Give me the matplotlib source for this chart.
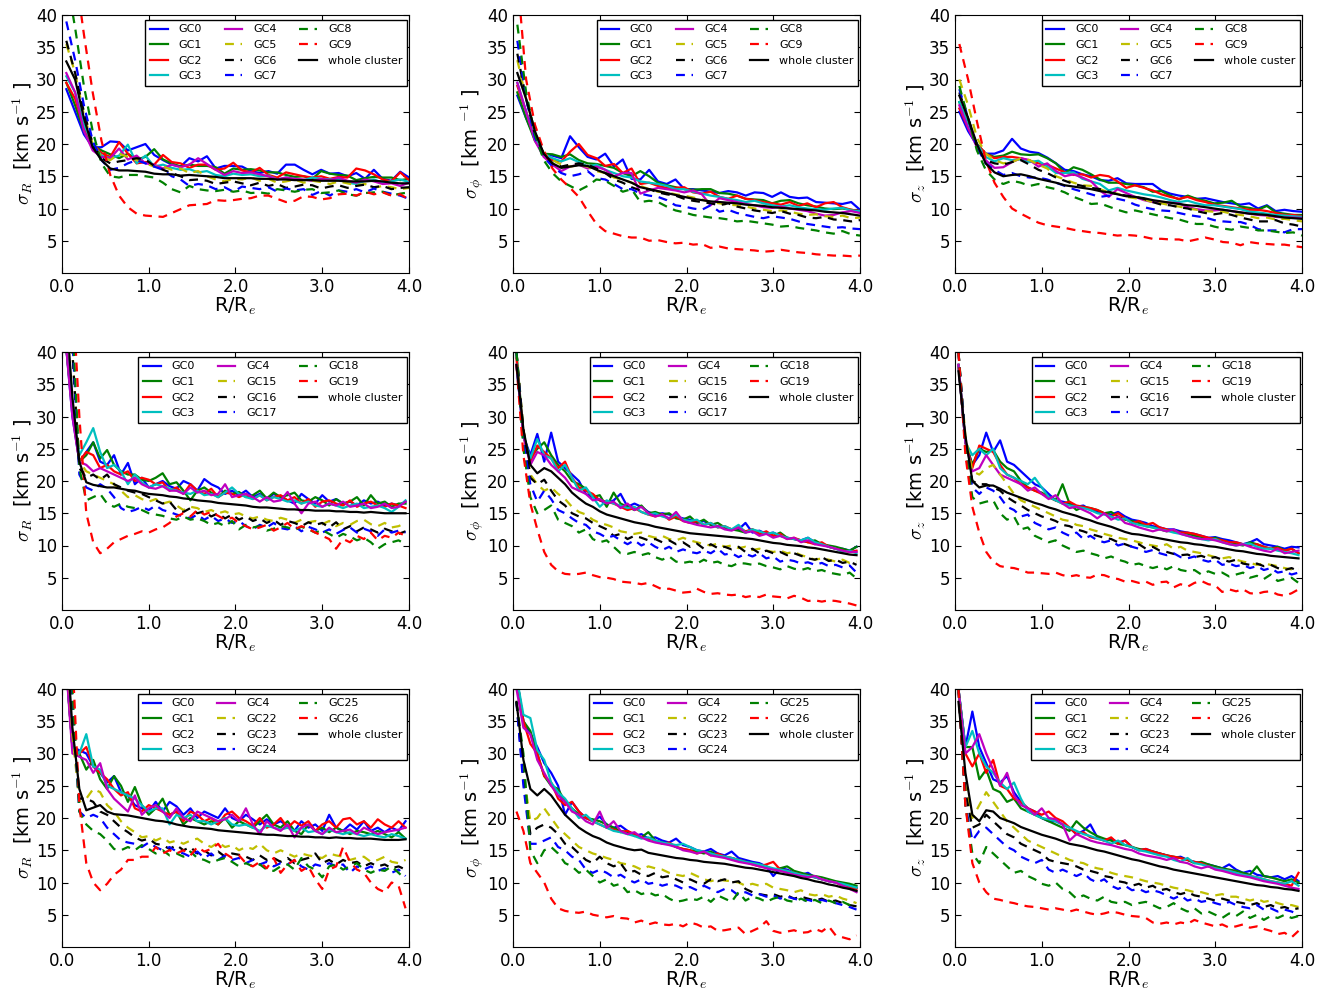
import numpy as np
import matplotlib
matplotlib.use('Agg')
import matplotlib.pyplot as plt
from matplotlib.ticker import FormatStrFormatter

# radial bins (R/Re)
x_top = np.linspace(0.05, 4.0, 40)
x_low = np.linspace(0.04, 3.96, 50)

# ---------------- top row: GC0-GC9 ----------------
sigR_top_gc0 = [28.5, 25, 21.5, 19.5, 19.5, 20.4, 20.3, 19.0, 19.5, 20.0, 18.3, 17.5, 16.8, 16.5, 17.8, 17.3, 18.1, 16.2, 16.6, 16.6,
                16.5, 15.8, 15.5, 15.8, 15.4, 16.8, 16.8, 16.0, 15.3, 16.0, 15.4, 15.5, 15.0, 15.5, 14.6, 16.0, 14.6, 14.3, 15.7, 14.8]
sigR_top_gc1 = [29.5, 26, 22, 19.8, 19.0, 18.4, 17.8, 18.5, 17.6, 18.0, 19.2, 17.6, 17.0, 16.5, 16.8, 16.6, 16.6, 16.4, 15.4, 16.2,
                16.0, 16.1, 15.9, 15.6, 15.6, 15.2, 14.9, 15.0, 14.6, 15.8, 15.4, 15.2, 15.1, 14.4, 14.7, 14.9, 14.8, 14.8, 14.4, 14.6]
sigR_top_gc2 = [29.5, 27, 22.5, 20, 18.6, 18.0, 20.3, 18.5, 17.0, 17.2, 16.8, 18.3, 17.2, 17.0, 16.3, 16.8, 16.8, 16.0, 16.2, 17.1,
                15.9, 15.6, 16.3, 15.2, 14.8, 15.6, 15.3, 15.0, 14.8, 15.0, 14.6, 14.9, 14.8, 16.2, 15.9, 15.3, 14.5, 14.2, 15.6, 14.4]
sigR_top_gc3 = [30.5, 28, 23, 20, 18.2, 17.8, 18.2, 19.9, 17.0, 18.2, 16.5, 16.8, 16.3, 16.0, 16.1, 15.6, 15.8, 15.2, 15.0, 15.4,
                15.2, 15.3, 15.0, 15.1, 14.5, 14.8, 14.6, 14.4, 14.8, 14.6, 14.5, 14.6, 14.0, 13.8, 14.3, 14.5, 14.0, 14.2, 14.5, 14.1]
sigR_top_gc4 = [31, 28, 22, 19, 18.0, 17.8, 19.3, 17.6, 18.2, 17.0, 16.8, 16.2, 16.8, 16.4, 16.8, 17.8, 16.9, 16.0, 15.2, 15.8,
                15.5, 15.6, 15.3, 15.0, 14.5, 14.8, 14.6, 14.5, 14.3, 14.6, 14.4, 14.8, 14.3, 14.0, 14.5, 14.2, 13.8, 13.9, 13.5, 14.0]
sigR_top_gc5 = [35.5, 31, 24.5, 20, 18, 17.5, 18.5, 18.0, 17.5, 17.0, 16.5, 16.5, 16.0, 16.2, 15.5, 15.8, 15.0, 14.5, 14.2, 14.6,
                14.5, 14.8, 14.3, 14.6, 14.0, 14.2, 14.5, 14.0, 14.3, 14.1, 13.8, 14.2, 13.9, 13.6, 13.8, 13.2, 13.5, 13.3, 13.0, 13.2]
sigR_top_gc6 = [36, 31, 25, 20, 17.8, 17.0, 17.3, 17.5, 17.8, 17.6, 16.6, 16.0, 15.5, 15.0, 14.4, 14.5, 14.3, 13.8, 14.0, 14.2,
                13.9, 13.6, 14.0, 13.5, 13.8, 13.2, 13.4, 13.7, 13.6, 13.1, 13.4, 13.6, 13.2, 13.5, 13.7, 13.3, 13.5, 13.0, 13.2, 13.3]
sigR_top_gc7 = [39, 33, 26, 20.5, 17.5, 16.0, 16.3, 17.0, 17.5, 17.0, 16.5, 16.0, 15.0, 14.5, 13.5, 13.8, 13.6, 13.0, 13.3, 12.6,
                13.4, 13.2, 13.0, 13.3, 12.6, 13.1, 12.8, 13.0, 12.1, 12.7, 12.0, 12.8, 12.6, 13.0, 12.5, 13.1, 12.6, 12.3, 12.0, 11.5]
sigR_top_gc8 = [46, 38, 29, 22, 17, 15, 14.8, 15.2, 15.2, 15.0, 14.8, 14.0, 13.0, 12.5, 13.5, 13.0, 12.8, 12.7, 12.9, 12.6,
                12.8, 12.4, 12.5, 12.3, 13.0, 12.8, 12.6, 12.9, 13.0, 12.4, 12.5, 12.8, 12.2, 12.0, 12.4, 12.5, 12.6, 12.0, 12.3, 12.5]
sigR_top_gc9 = [55, 47, 37, 28, 20.5, 15.2, 12.0, 10.2, 9.2, 8.9, 8.8, 8.7, 9.3, 9.9, 10.5, 10.6, 10.7, 11.3, 11.2, 11.3,
                11.5, 11.6, 12.0, 12.0, 11.5, 11.0, 11.2, 11.9, 11.8, 11.4, 11.6, 12.2, 12.3, 12.0, 12.6, 12.2, 12.5, 12.0, 12.2, 11.4]
sigR_top_all = [32.8, 30, 24, 19.5, 17.5, 16.2, 15.9, 15.9, 15.8, 15.7, 15.4, 15.3, 15.3, 15.1, 15.2, 15.1, 15.0, 14.9, 14.7, 14.7,
                14.7, 14.7, 14.6, 14.6, 14.5, 14.5, 14.4, 14.4, 14.4, 14.3, 14.3, 14.3, 14.2, 14.2, 14.2, 14.3, 14.2, 14.0, 13.9, 13.9]

sigP_top_gc0 = [27.5, 24, 21, 18.5, 18.2, 17.8, 21.2, 19.5, 18.0, 17.6, 18.5, 16.5, 17.6, 14.6, 14.5, 16.0, 14.2, 13.8, 14.5, 13.0,
                13.0, 12.8, 12.6, 12.4, 12.7, 12.5, 12.0, 12.5, 12.4, 11.8, 12.5, 11.8, 11.6, 11.7, 11.0, 10.9, 10.8, 10.7, 11.0, 9.8]
sigP_top_gc1 = [28, 24, 20.5, 18.5, 18.4, 18.0, 18.4, 17.5, 17.0, 16.9, 16.6, 16.3, 15.5, 15.0, 15.8, 15.0, 14.0, 13.6, 13.3, 13.0,
                12.9, 13.0, 13.0, 12.4, 12.3, 12.0, 11.5, 11.4, 11.3, 10.8, 11.2, 11.3, 10.8, 10.5, 10.3, 10.0, 9.9, 10.0, 9.8, 9.6]
sigP_top_gc2 = [29, 25, 21, 18.5, 17.5, 17.3, 18.8, 20.0, 18.3, 17.8, 16.6, 16.9, 15.5, 16.2, 13.8, 14.0, 13.5, 13.2, 13.2, 13.3,
                12.5, 12.3, 12.6, 11.8, 11.5, 12.0, 11.5, 11.3, 11.0, 10.8, 10.6, 11.0, 10.4, 10.8, 10.2, 10.8, 11.0, 10.2, 9.8, 9.6]
sigP_top_gc3 = [29.5, 25, 21, 18.5, 17.8, 17.3, 17.8, 17.2, 16.5, 16.8, 16.0, 15.5, 15.0, 14.8, 14.2, 14.0, 13.8, 13.5, 13.0, 13.0,
                12.6, 12.3, 12.0, 11.8, 11.5, 11.3, 11.0, 11.2, 10.8, 10.5, 10.3, 10.5, 10.2, 10.0, 9.9, 9.8, 10.0, 10.1, 9.7, 9.6]
sigP_top_gc4 = [29.5, 25, 20.5, 18, 16.8, 15.8, 16.5, 16.8, 16.2, 16.5, 16.0, 15.0, 15.5, 15.5, 12.3, 12.8, 13.2, 13.0, 12.8, 12.5,
                12.8, 12.2, 10.5, 11.6, 11.3, 11.0, 10.7, 10.5, 10.2, 10.1, 10.3, 10.0, 9.8, 9.6, 9.2, 8.9, 9.0, 9.4, 9.6, 9.3]
sigP_top_gc5 = [33, 27, 22, 18.5, 17.5, 16.8, 16.5, 16.7, 16.5, 15.8, 15.5, 14.8, 14.5, 14.0, 13.5, 13.0, 12.6, 12.5, 12.2, 12.0,
                11.7, 11.4, 11.0, 10.8, 10.6, 10.5, 10.3, 10.0, 9.8, 9.6, 9.7, 9.5, 9.2, 9.0, 9.1, 8.8, 8.7, 8.9, 8.5, 8.6]
sigP_top_gc6 = [34, 27, 21.5, 18.5, 17, 16.5, 16.8, 17.0, 16.8, 16.2, 15.5, 14.5, 14.0, 13.3, 12.8, 13.0, 12.5, 12.2, 12.0, 11.5,
                11.2, 11.0, 10.8, 10.5, 10.8, 10.3, 10.0, 9.7, 9.5, 9.3, 9.6, 9.2, 9.0, 8.6, 8.5, 8.7, 8.3, 8.2, 8.0, 8.2]
sigP_top_gc7 = [36, 27, 21, 18, 16.5, 15.5, 15.0, 15.3, 15.8, 14.7, 14.5, 13.8, 13.0, 13.0, 12.3, 12.0, 11.8, 11.3, 10.5, 10.3,
                10.0, 9.8, 10.5, 9.5, 9.8, 9.3, 9.0, 8.7, 8.5, 8.8, 8.6, 8.4, 8.0, 7.6, 7.4, 7.2, 7.0, 7.1, 6.9, 6.8]
sigP_top_gc8 = [38.5, 28, 21.5, 17.5, 15.5, 14.2, 13.5, 12.8, 13.5, 14.5, 14.3, 13.5, 12.6, 13.0, 11.0, 11.2, 11.0, 10.3, 9.7, 9.4,
                9.0, 8.8, 8.6, 8.5, 8.3, 8.0, 8.1, 7.9, 7.7, 7.5, 7.2, 7.3, 7.0, 6.8, 6.6, 6.3, 6.1, 6.5, 6.0, 5.8]
sigP_top_gc9 = [46, 30, 23, 19, 16.2, 14.5, 13.2, 11.8, 9.6, 7.6, 6.5, 6.1, 5.7, 5.5, 5.5, 5.0, 5.1, 4.8, 4.6, 4.7,
                4.4, 4.5, 3.9, 4.1, 3.8, 3.7, 3.6, 3.5, 3.3, 3.4, 3.6, 3.4, 3.2, 3.1, 2.9, 2.8, 2.7, 2.7, 2.6, 2.7]
sigP_top_all = [31, 27, 22, 18.5, 17, 16.3, 16.5, 16.7, 16.6, 16.0, 15.5, 15.0, 14.5, 14.0, 13.3, 13.0, 12.7, 12.4, 12.1, 11.8,
                11.5, 11.3, 11.1, 11.0, 10.9, 10.8, 10.6, 10.5, 10.4, 10.2, 10.1, 10.0, 9.9, 9.8, 9.7, 9.5, 9.4, 9.3, 9.1, 8.9]

sigZ_top_gc0 = [25, 22, 19.8, 18.5, 18.5, 19.0, 20.8, 19.3, 18.8, 18.6, 17.9, 17.0, 16.0, 15.8, 15.3, 15.0, 14.4, 14.3, 14.7, 13.9,
                13.8, 13.8, 13.8, 12.8, 12.3, 12.0, 11.8, 11.5, 11.6, 11.3, 11.0, 10.8, 10.6, 10.8, 10.0, 10.5, 9.6, 9.8, 9.6, 9.5]
sigZ_top_gc1 = [26.5, 23, 20, 18.5, 18.0, 18.2, 18.8, 18.4, 18.3, 18.4, 17.8, 17.0, 15.5, 16.4, 16.0, 15.3, 14.5, 14.0, 14.0, 13.8,
                13.6, 13.3, 12.6, 12.7, 12.0, 11.4, 12.0, 11.5, 11.2, 10.8, 10.9, 11.2, 10.3, 10.1, 9.8, 10.4, 9.4, 9.2, 9.0, 9.0]
sigZ_top_gc2 = [25.5, 22.5, 20, 18.5, 17.8, 18.0, 18.0, 17.8, 17.4, 17.0, 16.8, 16.2, 15.6, 15.2, 15.3, 14.8, 15.2, 15.0, 14.2, 13.2,
                13.6, 13.2, 12.8, 12.2, 11.8, 11.5, 11.8, 11.3, 11.0, 10.6, 10.4, 10.2, 10.0, 9.8, 9.8, 9.6, 9.3, 9.0, 9.0, 8.8]
sigZ_top_gc3 = [26.5, 23, 20, 18.0, 17.3, 17.8, 17.5, 17.6, 17.2, 17.4, 16.5, 15.5, 15.5, 15.6, 14.6, 14.2, 13.8, 12.8, 13.2, 12.8,
                12.5, 12.2, 12.0, 11.7, 11.3, 11.0, 11.2, 10.8, 10.5, 10.5, 10.3, 10.1, 9.9, 9.5, 9.4, 9.2, 9.0, 8.9, 8.8, 8.7]
sigZ_top_gc4 = [26, 22.5, 19.5, 17.5, 16.3, 16.4, 17.2, 17.8, 17.5, 16.5, 17.0, 15.8, 15.0, 15.3, 14.8, 14.2, 12.8, 11.8, 13.0, 12.4,
                11.8, 11.3, 11.0, 10.9, 10.9, 10.8, 10.2, 9.9, 9.7, 9.7, 9.8, 9.6, 9.4, 9.2, 9.0, 8.9, 8.7, 8.6, 8.6, 8.5]
sigZ_top_gc5 = [30, 26, 21, 18.5, 17.5, 17.0, 17.2, 17.8, 17.5, 16.8, 16.2, 15.0, 14.5, 14.0, 13.6, 13.5, 13.0, 12.5, 12.3, 11.8,
                11.6, 11.4, 11.0, 10.8, 10.5, 10.3, 10.0, 9.8, 9.6, 9.5, 9.5, 9.2, 9.0, 8.8, 8.5, 8.6, 8.3, 8.4, 8.2, 8.0]
sigZ_top_gc6 = [28, 24, 19.5, 17.5, 17.0, 16.8, 17.2, 17.5, 16.8, 16.0, 15.5, 14.8, 14.3, 13.8, 13.5, 13.2, 13.0, 12.6, 12.2, 12.0,
                11.8, 11.5, 11.0, 10.6, 10.5, 10.2, 10.0, 9.6, 9.3, 9.1, 9.3, 9.0, 8.6, 8.3, 8.0, 8.0, 8.2, 7.7, 7.5, 7.2]
sigZ_top_gc7 = [28.5, 24, 19.5, 17, 16.0, 15.2, 15.5, 15.0, 14.8, 14.8, 14.5, 14.0, 13.5, 13.0, 12.6, 12.2, 11.8, 12.0, 11.5, 11.2,
                10.6, 10.2, 9.9, 9.7, 9.6, 9.3, 9.0, 8.8, 8.6, 8.2, 8.0, 7.9, 7.9, 7.5, 6.8, 6.6, 6.6, 6.3, 6.8, 6.8]
sigZ_top_gc8 = [29, 24, 19, 16, 14.5, 13.8, 14.3, 14.0, 13.5, 13.8, 13.3, 13.0, 12.5, 11.8, 11.3, 10.7, 10.8, 10.3, 9.8, 9.4,
                9.7, 9.4, 9.1, 8.8, 8.5, 8.3, 7.9, 7.6, 7.6, 7.2, 6.9, 6.7, 7.2, 7.0, 6.6, 6.6, 6.4, 6.2, 6.3, 5.8]
sigZ_top_gc9 = [35.5, 30, 23.5, 17.5, 14.0, 11.8, 10.0, 9.2, 8.5, 7.8, 7.4, 7.2, 7.0, 6.7, 6.5, 6.3, 6.2, 6.0, 5.8, 5.9,
                5.8, 5.6, 5.3, 5.3, 5.2, 5.2, 4.9, 5.2, 5.5, 5.2, 4.8, 4.7, 4.3, 4.8, 4.6, 4.5, 4.4, 4.4, 4.2, 4.0]
sigZ_top_all = [27.5, 24, 20, 17, 15.6, 15.0, 15.2, 15.3, 15.0, 14.6, 14.3, 14.0, 13.6, 13.4, 13.2, 13.0, 12.7, 12.5, 12.2, 11.9,
                11.8, 11.6, 11.3, 11.1, 10.9, 10.7, 10.5, 10.4, 10.2, 10.0, 9.8, 9.6, 9.4, 9.2, 9.1, 9.0, 8.8, 8.6, 8.5, 8.4]

# ---------------- middle row: GC0-GC4, GC15-GC19 ----------------
sigR_mid_gc0 = [42, 30, 23, 24.5, 26.0, 23.0, 22.5, 24.0, 21.0, 22.8, 19.5, 20.5, 19.0, 19.5, 20.0, 19.2, 18.8, 20.0, 19.5, 18.5,
                20.3, 19.5, 19.0, 18.0, 18.5, 17.8, 18.5, 17.5, 18.0, 17.2, 18.0, 17.5, 17.0, 16.5, 18.0, 17.2, 16.5, 17.8, 16.8, 17.2,
                16.5, 16.8, 16.2, 17.0, 16.5, 16.8, 16.2, 16.5, 16.2, 16.8]
sigR_mid_gc1 = [42, 31, 23, 24.0, 26.0, 23.5, 24.8, 22.5, 21.5, 21.0, 21.0, 20.2, 20.0, 20.5, 21.2, 19.5, 19.8, 18.5, 17.0, 18.5,
                19.0, 18.2, 17.5, 18.5, 18.0, 18.3, 17.5, 17.8, 18.5, 17.3, 18.2, 17.5, 17.8, 18.2, 17.0, 16.8, 17.5, 17.0, 16.2, 17.2,
                16.5, 16.8, 17.5, 16.2, 17.8, 16.5, 16.8, 16.0, 16.5, 16.5]
sigR_mid_gc2 = [42, 31, 23, 24.5, 24.0, 22.0, 22.5, 21.5, 21.0, 21.5, 20.0, 20.5, 20.2, 19.5, 19.8, 18.5, 19.0, 18.0, 19.5, 18.5,
                18.0, 18.8, 17.5, 18.2, 18.0, 17.5, 18.0, 17.2, 17.8, 17.0, 17.5, 17.8, 17.0, 17.5, 16.5, 17.2, 16.0, 16.8, 17.0, 16.5,
                16.2, 17.0, 16.0, 16.5, 16.8, 16.2, 16.0, 16.5, 16.2, 15.8]
sigR_mid_gc3 = [42, 31, 24, 26.0, 28.2, 24.5, 22.0, 22.5, 21.5, 19.5, 21.0, 19.8, 19.0, 19.5, 19.2, 18.8, 18.5, 18.2, 18.0, 18.5,
                17.8, 18.0, 17.5, 18.2, 19.0, 18.0, 17.5, 17.2, 17.8, 17.0, 17.5, 17.2, 16.8, 17.0, 16.5, 16.8, 16.2, 16.0, 16.5, 16.2,
                15.8, 16.2, 16.5, 15.8, 16.0, 16.2, 15.8, 15.2, 16.0, 17.0]
sigR_mid_gc4 = [42, 30, 23, 22.5, 21.5, 22.0, 21.5, 21.0, 20.5, 20.0, 20.5, 19.5, 19.0, 18.8, 19.2, 18.5, 18.5, 18.0, 19.0, 18.2,
                18.5, 17.8, 18.0, 19.5, 17.5, 17.8, 18.0, 17.5, 16.8, 17.5, 16.8, 17.0, 18.3, 16.5, 15.0, 16.5, 16.8, 16.0, 16.5, 16.2,
                16.8, 16.0, 16.2, 16.5, 15.8, 16.0, 16.5, 15.8, 16.0, 16.8]
sigR_mid_gc15 = [58, 40, 23, 21.5, 21.0, 20.5, 20.0, 19.5, 18.5, 17.5, 17.8, 17.2, 16.8, 17.2, 16.5, 16.8, 16.2, 15.5, 16.0, 15.8,
                 15.2, 15.5, 15.0, 15.3, 14.8, 15.0, 14.5, 14.2, 14.5, 14.0, 13.8, 14.3, 14.0, 13.5, 14.0, 13.6, 13.8, 13.3, 13.8, 13.0,
                 13.5, 13.2, 13.8, 14.0, 13.3, 13.0, 13.5, 12.8, 13.0, 13.5]
sigR_mid_gc16 = [58, 40, 22, 20.5, 21.0, 20.2, 21.0, 19.5, 19.0, 18.5, 18.2, 18.0, 17.5, 17.0, 16.5, 16.8, 15.5, 15.2, 15.8, 15.0,
                 15.3, 14.5, 15.0, 14.2, 14.8, 14.0, 14.5, 13.8, 14.2, 13.5, 14.0, 13.2, 13.8, 13.5, 13.0, 13.6, 13.2, 13.5, 12.8, 13.6,
                 12.5, 13.0, 12.2, 12.8, 12.5, 12.0, 12.6, 12.2, 11.8, 12.2]
sigR_mid_gc17 = [60, 42, 21, 19.0, 18.5, 19.5, 18.8, 17.5, 15.8, 15.2, 15.5, 16.0, 15.5, 16.2, 15.5, 15.2, 14.8, 14.5, 14.2, 14.8,
                 14.0, 14.6, 13.8, 14.2, 13.5, 13.8, 13.0, 12.5, 13.2, 12.8, 13.5, 12.7, 12.5, 13.0, 12.2, 12.9, 12.5, 12.0, 12.5, 11.8,
                 12.4, 12.8, 12.0, 12.6, 12.2, 11.5, 12.5, 12.0, 12.3, 12.0]
sigR_mid_gc18 = [60, 45, 22, 17.0, 17.5, 18.0, 16.5, 16.0, 16.5, 16.0, 15.8, 15.5, 15.0, 14.8, 14.6, 14.2, 14.0, 14.5, 14.0, 14.2,
                 13.8, 13.2, 13.5, 13.0, 13.8, 12.5, 13.2, 12.8, 13.0, 12.3, 12.6, 13.0, 12.8, 12.4, 12.9, 12.5, 12.0, 12.4, 11.8, 11.2,
                 11.8, 11.4, 10.8, 11.2, 10.5, 9.5, 10.2, 10.5, 10.8, 10.2]
sigR_mid_gc19 = [60, 50, 30, 15, 10.5, 8.8, 9.5, 10.5, 11.0, 11.5, 11.8, 12.2, 12.0, 12.5, 12.8, 13.5, 14.5, 15.0, 14.5, 15.5,
                 14.8, 15.2, 14.6, 14.0, 14.3, 13.5, 13.0, 12.5, 12.8, 13.2, 12.3, 12.8, 13.5, 12.5, 13.0, 12.6, 12.0, 11.5, 11.0, 9.5,
                 11.0, 10.5, 11.5, 11.0, 12.0, 10.8, 11.5, 11.2, 12.0, 11.5]
sigR_mid_all = [48, 33, 23, 19.8, 19.4, 19.2, 19.0, 19.0, 18.8, 18.6, 18.5, 18.2, 18.0, 17.9, 17.8, 17.6, 17.5, 17.3, 17.2, 17.0,
                16.9, 16.8, 16.6, 16.5, 16.4, 16.3, 16.2, 16.0, 15.9, 15.9, 15.8, 15.7, 15.6, 15.6, 15.5, 15.5, 15.4, 15.4, 15.4, 15.3,
                15.3, 15.2, 15.2, 15.1, 15.2, 15.1, 15.0, 15.0, 15.0, 15.0]

sigP_mid_gc0 = [38, 27, 24.0, 27.3, 23.0, 27.5, 23.0, 22.0, 21.0, 20.0, 18.0, 17.5, 17.0, 16.5, 17.0, 18.0, 16.0, 16.5, 16.0, 15.2,
                14.8, 15.0, 14.8, 14.5, 14.2, 14.0, 13.5, 13.8, 13.2, 13.0, 12.8, 12.5, 12.5, 13.5, 12.0, 12.3, 11.8, 12.0, 11.5, 11.2,
                11.0, 10.8, 11.2, 10.5, 10.2, 9.8, 9.5, 9.5, 9.2, 9.8]
sigP_mid_gc1 = [40, 27, 23.5, 25.0, 26.0, 24.0, 22.5, 21.5, 20.0, 19.5, 18.8, 17.5, 17.8, 16.0, 18.2, 16.5, 16.0, 15.5, 16.2, 15.0,
                15.2, 14.8, 15.0, 14.2, 14.0, 14.5, 13.5, 14.0, 13.2, 13.5, 12.8, 12.5, 12.3, 12.0, 12.5, 11.8, 12.0, 11.5, 12.0, 11.2,
                11.0, 10.8, 10.5, 10.8, 10.2, 10.0, 9.8, 9.5, 9.2, 9.8]
sigP_mid_gc2 = [39, 27, 23.0, 25.5, 24.5, 23.5, 22.0, 23.0, 20.5, 19.0, 18.5, 18.0, 17.0, 16.8, 16.5, 16.0, 15.5, 15.8, 15.2, 14.8,
                14.5, 14.8, 14.0, 14.5, 13.8, 13.5, 13.8, 13.2, 13.5, 12.8, 13.0, 12.5, 12.8, 12.2, 12.5, 11.8, 12.2, 11.5, 11.8, 11.0,
                11.2, 10.8, 10.5, 10.2, 10.5, 9.8, 9.5, 9.2, 9.0, 9.2]
sigP_mid_gc3 = [38, 27, 23.5, 26.5, 24.0, 23.5, 21.5, 22.5, 20.5, 18.5, 19.0, 17.5, 16.0, 17.0, 16.5, 16.2, 15.8, 16.0, 15.2, 14.8,
                15.0, 14.5, 14.2, 14.8, 14.0, 13.8, 14.0, 13.2, 13.5, 12.8, 13.0, 12.5, 13.2, 12.0, 12.5, 12.2, 11.8, 12.0, 11.5, 11.2,
                11.0, 10.8, 11.2, 10.5, 10.2, 9.8, 9.5, 9.0, 9.2, 8.8]
sigP_mid_gc4 = [38, 27, 22.5, 24.5, 24.0, 22.5, 21.5, 20.5, 19.0, 18.5, 18.0, 17.0, 17.2, 16.5, 16.8, 15.8, 16.5, 15.5, 16.0, 15.0,
                14.5, 14.8, 14.2, 15.2, 13.8, 13.5, 13.2, 13.0, 12.8, 13.0, 12.5, 12.3, 12.8, 12.0, 12.2, 11.5, 11.8, 11.2, 11.5, 11.0,
                11.2, 10.5, 10.8, 10.2, 10.0, 9.8, 9.5, 9.2, 9.0, 9.0]
sigP_mid_gc15 = [40, 28, 21, 19.5, 18.5, 19.0, 18.0, 17.2, 16.0, 15.2, 14.8, 14.0, 13.5, 13.2, 12.8, 12.2, 12.0, 11.8, 12.0, 11.5,
                 11.2, 11.5, 11.0, 10.8, 11.2, 10.8, 10.5, 10.2, 10.0, 10.3, 9.8, 10.0, 9.6, 9.8, 9.3, 9.5, 9.2, 9.0, 9.2, 8.8,
                 9.0, 8.5, 8.2, 7.8, 8.0, 7.8, 7.5, 7.8, 7.3, 7.5]
sigP_mid_gc16 = [40, 28, 20.5, 19.5, 20.2, 18.5, 17.0, 16.2, 15.0, 14.5, 14.2, 13.5, 13.0, 12.5, 11.5, 11.8, 11.0, 11.5, 11.2, 10.8,
                 11.0, 10.5, 10.8, 10.2, 10.5, 9.8, 10.3, 9.5, 10.2, 9.6, 9.8, 9.4, 9.8, 9.0, 9.5, 8.8, 9.2, 8.8, 9.0, 8.5,
                 8.8, 8.4, 8.0, 7.8, 8.2, 7.6, 7.8, 7.3, 7.5, 7.0]
sigP_mid_gc17 = [40, 26, 19.5, 16.8, 18.5, 17.2, 15.5, 15.0, 14.2, 13.5, 13.2, 12.2, 11.8, 11.2, 11.5, 10.8, 10.2, 10.8, 10.0, 10.5,
                 9.8, 9.3, 9.8, 9.0, 9.4, 9.0, 8.8, 9.2, 8.8, 9.5, 8.6, 8.8, 8.2, 8.7, 8.3, 8.8, 8.0, 8.3, 7.5, 7.8,
                 7.6, 7.2, 7.4, 7.0, 7.3, 6.8, 7.0, 6.6, 6.9, 5.8]
sigP_mid_gc18 = [40, 25, 17.5, 15.0, 15.5, 16.2, 14.0, 13.5, 13.0, 12.0, 12.5, 11.0, 10.5, 10.8, 9.8, 8.8, 8.7, 9.0, 8.5, 8.8,
                 8.2, 7.8, 8.3, 7.5, 7.3, 7.5, 7.2, 7.8, 7.3, 7.5, 7.0, 6.8, 7.3, 7.2, 7.0, 7.2, 6.8, 6.6, 6.3, 6.8,
                 6.4, 6.2, 6.5, 6.0, 6.2, 5.8, 5.6, 5.4, 5.8, 4.9]
sigP_mid_gc19 = [38, 24, 16.5, 12.5, 9.0, 7.0, 6.0, 5.6, 5.5, 5.6, 5.8, 5.4, 5.1, 5.0, 4.8, 4.4, 4.3, 4.2, 4.0, 4.2,
                 3.7, 3.2, 3.3, 3.0, 2.7, 2.8, 3.3, 2.8, 2.5, 2.6, 2.4, 2.3, 2.4, 2.0, 2.2, 2.0, 2.4, 2.1, 2.0, 1.8,
                 2.2, 1.9, 1.4, 1.5, 1.3, 1.5, 1.4, 1.2, 1.0, 0.7]
sigP_mid_all = [38, 28, 22.5, 21.2, 22.0, 21.5, 20.5, 19.5, 18.2, 17.3, 16.5, 16.0, 15.3, 14.8, 14.5, 14.2, 13.9, 13.6, 13.4, 13.2,
                12.9, 12.7, 12.5, 12.3, 12.1, 11.9, 11.8, 11.7, 11.6, 11.5, 11.4, 11.3, 11.2, 11.1, 11.0, 10.8, 10.6, 10.4, 10.3, 10.1,
                10.0, 9.9, 9.7, 9.6, 9.4, 9.2, 9.0, 8.8, 8.6, 8.5]

sigZ_mid_gc0 = [38, 26, 22.5, 24.0, 27.5, 24.5, 26.3, 23.0, 22.5, 21.5, 20.5, 19.5, 19.0, 18.0, 17.0, 16.8, 16.5, 16.0, 16.2, 15.5,
                15.2, 15.0, 14.8, 15.2, 14.5, 14.0, 13.8, 13.5, 13.0, 12.8, 12.5, 12.5, 12.2, 12.0, 11.8, 11.5, 11.2, 11.3, 11.0, 10.8,
                10.5, 10.2, 10.5, 11.0, 10.2, 10.0, 9.8, 9.5, 9.8, 9.7]
sigZ_mid_gc1 = [38, 26, 22.5, 25.0, 24.5, 24.8, 23.0, 22.0, 21.5, 20.0, 19.0, 18.5, 18.2, 17.5, 17.0, 19.5, 16.5, 15.5, 16.0, 15.8,
                15.5, 15.0, 15.2, 14.5, 14.0, 13.8, 13.5, 13.0, 12.8, 12.5, 12.2, 12.4, 12.0, 11.8, 11.5, 11.2, 11.0, 11.2, 10.8, 10.5,
                10.2, 10.0, 10.5, 10.2, 9.8, 9.5, 9.8, 9.2, 9.5, 8.8]
sigZ_mid_gc2 = [38, 26, 22.0, 25.5, 25.0, 24.5, 22.5, 21.0, 20.5, 19.5, 19.0, 18.5, 18.0, 17.5, 17.0, 16.5, 16.8, 16.2, 16.0, 15.8,
                15.5, 15.0, 14.5, 15.0, 14.2, 13.5, 13.8, 13.2, 13.5, 12.8, 12.5, 12.2, 12.0, 12.0, 11.8, 11.5, 11.2, 11.0, 10.8, 10.5,
                10.5, 10.2, 10.0, 10.2, 9.8, 9.5, 9.6, 9.2, 9.5, 8.8]
sigZ_mid_gc3 = [38, 26, 24.0, 25.0, 24.0, 25.0, 22.0, 21.0, 20.5, 20.0, 19.5, 20.5, 19.0, 17.5, 17.0, 16.5, 16.2, 16.0, 15.8, 15.5,
                15.0, 14.8, 14.5, 14.0, 14.2, 13.5, 13.2, 13.0, 12.8, 12.5, 12.3, 12.0, 11.8, 11.5, 11.2, 11.0, 10.8, 11.0, 10.5, 10.2,
                10.0, 10.2, 10.3, 9.8, 9.5, 9.5, 9.2, 9.0, 8.8, 8.5]
sigZ_mid_gc4 = [38, 26, 21.5, 22.0, 24.0, 22.5, 21.0, 20.5, 20.0, 19.5, 18.5, 19.0, 18.0, 17.2, 17.8, 16.5, 15.8, 16.0, 15.5, 15.0,
                14.2, 15.0, 14.0, 14.5, 13.5, 13.2, 12.8, 12.5, 12.2, 12.5, 12.2, 12.5, 11.8, 11.5, 11.2, 11.0, 11.0, 10.8, 10.5, 10.2,
                10.0, 10.2, 9.8, 9.5, 9.2, 9.0, 9.5, 8.8, 9.0, 9.2]
sigZ_mid_gc15 = [40, 27, 21.5, 21.0, 22.0, 22.5, 21.0, 19.5, 18.0, 17.0, 16.5, 16.0, 15.5, 15.0, 14.5, 14.0, 13.8, 13.2, 13.0, 12.5,
                 12.2, 11.8, 11.5, 11.2, 11.0, 10.8, 10.5, 10.2, 10.0, 9.8, 10.2, 9.5, 9.8, 9.2, 9.0, 8.8, 8.5, 8.2, 8.0, 8.2,
                 7.8, 7.5, 7.3, 7.0, 7.2, 7.0, 6.8, 6.5, 6.3, 6.3]
sigZ_mid_gc16 = [40, 26, 20, 19.5, 19.5, 19.0, 18.5, 17.5, 16.8, 16.2, 15.5, 15.0, 14.5, 14.2, 13.8, 13.2, 13.0, 12.5, 12.2, 11.8,
                 11.5, 11.2, 11.0, 10.5, 10.2, 9.8, 10.2, 9.5, 9.8, 9.2, 9.0, 8.7, 8.5, 8.6, 8.2, 8.4, 8.0, 8.2, 7.8, 7.5,
                 7.8, 7.2, 7.0, 7.2, 6.8, 7.0, 6.5, 6.2, 6.5, 6.0]
sigZ_mid_gc17 = [40, 26, 19, 18.0, 19.0, 18.5, 17.5, 16.0, 15.5, 14.5, 14.8, 13.5, 13.0, 12.5, 12.8, 12.0, 11.5, 12.0, 11.0, 11.5,
                 10.8, 10.5, 10.8, 10.0, 10.3, 9.8, 9.5, 9.0, 9.3, 8.8, 8.5, 8.8, 8.2, 8.0, 8.3, 7.8, 7.5, 7.8, 7.0, 7.2,
                 6.8, 7.0, 6.5, 6.8, 6.2, 6.5, 5.8, 6.0, 5.5, 5.8]
sigZ_mid_gc18 = [40, 25, 17.5, 16.5, 16.8, 17.0, 15.0, 14.0, 14.5, 12.5, 12.8, 11.5, 11.0, 10.5, 10.8, 10.0, 9.5, 9.0, 9.2, 8.8,
                 8.5, 8.0, 8.3, 7.8, 7.5, 7.0, 7.2, 6.8, 6.5, 6.8, 6.3, 6.8, 6.2, 6.0, 6.2, 5.5, 6.0, 5.6, 5.8, 5.2,
                 5.5, 5.8, 5.0, 5.3, 4.8, 5.5, 4.5, 4.8, 5.0, 4.2]
sigZ_mid_gc19 = [40, 24, 16, 12.0, 9.0, 7.5, 6.8, 6.6, 6.5, 6.2, 5.8, 5.8, 5.7, 5.6, 5.8, 5.4, 5.2, 5.4, 5.1, 5.0,
                 5.5, 5.4, 5.0, 4.8, 4.4, 4.5, 4.2, 4.4, 3.9, 4.3, 4.4, 3.5, 4.0, 3.6, 4.2, 4.5, 4.0, 3.8, 2.8, 3.2,
                 2.9, 3.2, 2.6, 2.5, 2.8, 2.9, 2.4, 2.2, 2.6, 3.2]
sigZ_mid_all = [37, 27, 20, 19.0, 19.3, 19.3, 18.8, 18.2, 17.8, 17.4, 17.0, 16.6, 16.3, 15.9, 15.6, 15.2, 14.9, 14.6, 14.2, 13.9,
                13.5, 13.2, 12.9, 12.5, 12.1, 11.8, 11.7, 11.5, 11.3, 11.1, 10.9, 10.7, 10.5, 10.4, 10.2, 10.1, 9.9, 9.8, 9.6, 9.4,
                9.2, 9.1, 8.9, 8.7, 8.6, 8.4, 8.3, 8.2, 8.1, 8.0]

# ---------------- bottom row: GC0-GC4, GC22-GC26 ----------------
sigR_bot_gc0 = [45, 31, 30.5, 30.0, 28.0, 27.0, 25.5, 26.5, 24.0, 23.5, 22.0, 21.5, 21.0, 22.5, 21.0, 22.5, 21.8, 20.5, 21.5, 20.0,
                21.0, 20.5, 20.0, 21.5, 20.0, 19.5, 20.5, 19.8, 19.0, 19.8, 19.0, 19.5, 18.8, 18.0, 19.5, 18.5, 19.0, 18.0, 20.5, 18.5,
                18.0, 19.0, 18.2, 19.5, 18.0, 18.5, 17.8, 18.5, 18.0, 19.5]
sigR_bot_gc1 = [45, 31, 30.0, 27.5, 29.0, 26.0, 24.5, 26.5, 25.0, 22.5, 24.8, 22.0, 20.5, 21.5, 23.0, 20.5, 21.0, 19.0, 20.0, 19.5,
                19.0, 19.5, 19.0, 20.0, 18.5, 19.5, 19.0, 18.5, 19.5, 20.5, 19.0, 18.5, 19.5, 18.0, 17.5, 19.0, 18.0, 18.5, 17.8, 18.5,
                18.0, 17.5, 18.0, 17.8, 17.5, 18.0, 17.5, 17.0, 17.8, 16.8]
sigR_bot_gc2 = [45, 31, 30.0, 31.0, 28.0, 27.0, 26.0, 24.5, 23.5, 24.0, 21.5, 21.0, 22.0, 21.5, 21.0, 20.5, 21.0, 19.5, 21.0, 20.5,
                19.5, 20.0, 19.0, 20.5, 21.0, 20.0, 19.5, 18.8, 20.0, 18.5, 19.0, 20.0, 18.5, 19.5, 18.8, 19.5, 18.0, 19.0, 19.5, 18.5,
                19.8, 20.0, 19.0, 19.5, 18.5, 19.8, 19.0, 18.5, 19.5, 18.5]
sigR_bot_gc3 = [45, 31, 30.0, 33.0, 28.0, 27.5, 25.0, 24.5, 24.0, 23.5, 23.0, 22.0, 21.0, 21.5, 21.5, 19.0, 20.5, 20.0, 20.5, 19.5,
                19.5, 19.0, 19.5, 20.0, 19.0, 18.8, 19.0, 18.5, 18.0, 18.8, 18.5, 18.2, 18.5, 18.0, 18.5, 17.8, 18.0, 17.5, 18.2, 17.8,
                17.5, 17.8, 17.5, 17.2, 17.5, 17.2, 17.0, 17.5, 17.2, 16.8]
sigR_bot_gc4 = [45, 30, 29.5, 29.0, 27.0, 28.5, 24.5, 23.0, 22.0, 21.0, 23.5, 20.5, 21.5, 22.0, 21.0, 20.0, 21.5, 20.0, 19.5, 21.0,
                20.5, 20.0, 19.5, 19.8, 20.5, 19.5, 21.5, 19.0, 17.5, 19.5, 18.5, 18.0, 19.0, 17.0, 18.5, 19.0, 18.0, 17.5, 18.5, 17.8,
                18.0, 18.2, 17.5, 18.5, 18.0, 17.5, 17.8, 18.0, 18.2, 18.5]
sigR_bot_gc22 = [50, 33, 22.5, 23.0, 24.5, 24.0, 22.0, 21.0, 19.5, 18.5, 17.8, 17.0, 17.2, 16.5, 17.0, 16.2, 16.5, 16.0, 16.5, 16.8,
                 16.0, 15.5, 16.2, 15.5, 15.8, 15.0, 15.5, 15.2, 16.0, 15.0, 14.5, 15.0, 14.5, 14.0, 14.5, 14.2, 14.0, 13.8, 14.5, 14.2,
                 14.0, 13.5, 13.8, 14.0, 13.2, 13.5, 14.0, 13.2, 13.0, 13.5]
sigR_bot_gc23 = [55, 38, 23, 23.0, 22.5, 21.0, 20.5, 19.5, 18.5, 17.8, 17.0, 16.5, 16.8, 16.0, 15.8, 15.2, 15.8, 15.0, 15.5, 14.5,
                 15.0, 14.2, 14.8, 14.0, 14.5, 14.3, 14.0, 13.5, 14.2, 13.5, 13.8, 13.2, 13.8, 13.0, 13.5, 13.8, 14.5, 13.0, 13.5, 12.8,
                 13.5, 13.0, 13.2, 12.5, 13.0, 12.5, 12.8, 12.2, 12.5, 12.0]
sigR_bot_gc24 = [55, 38, 21, 20.0, 20.5, 20.0, 18.5, 17.5, 16.5, 16.2, 16.0, 15.5, 16.2, 15.5, 15.0, 15.5, 14.8, 14.5, 14.0, 14.8,
                 13.8, 14.5, 13.5, 14.2, 13.5, 13.8, 13.0, 13.5, 12.8, 13.2, 12.5, 13.0, 12.8, 13.5, 12.5, 12.0, 12.8, 12.5, 13.0, 12.5,
                 12.8, 11.5, 12.5, 12.0, 12.5, 11.8, 12.2, 11.5, 12.0, 11.0]
sigR_bot_gc25 = [55, 40, 21, 19.0, 18.0, 17.5, 16.5, 15.2, 15.0, 15.5, 15.0, 15.8, 15.2, 14.5, 15.0, 14.2, 14.5, 14.0, 14.8, 13.8,
                 13.5, 13.0, 13.5, 13.8, 13.2, 12.5, 13.0, 12.5, 12.8, 12.0, 11.8, 12.5, 12.8, 12.0, 13.8, 12.5, 12.0, 10.8, 12.5, 12.8,
                 12.0, 12.5, 13.0, 12.0, 11.5, 12.0, 11.8, 12.5, 11.5, 10.5]
sigR_bot_gc26 = [60, 45, 22, 13, 10.0, 8.8, 9.8, 11.2, 12.0, 13.5, 13.5, 14.0, 14.0, 15.5, 14.5, 15.0, 14.5, 15.0, 14.2, 15.5,
                 14.8, 15.2, 16.0, 14.5, 13.8, 14.2, 13.0, 12.5, 13.2, 12.2, 13.8, 11.5, 12.8, 13.5, 11.8, 12.5, 10.5, 9.0, 12.0, 12.5,
                 15.5, 13.2, 12.0, 11.5, 10.0, 9.0, 8.5, 10.0, 9.5, 6.0]
sigR_bot_all = [50, 34, 24.5, 21.2, 21.6, 22.0, 21.0, 20.6, 20.5, 20.4, 20.2, 20.0, 19.8, 19.6, 19.5, 19.3, 19.0, 18.8, 18.6, 18.5,
                18.4, 18.3, 18.1, 18.0, 17.9, 17.8, 17.7, 17.6, 17.5, 17.4, 17.4, 17.3, 17.2, 17.2, 17.1, 17.1, 17.0, 17.0, 16.9, 17.0,
                16.9, 16.9, 16.8, 16.8, 16.8, 16.7, 16.6, 16.6, 16.6, 16.7]

sigP_bot_gc0 = [42, 35, 33.0, 31.0, 28.5, 27.0, 25.0, 20.5, 22.5, 21.0, 20.0, 19.5, 20.2, 19.0, 18.5, 18.8, 18.0, 17.2, 17.5, 16.8,
                17.0, 16.5, 16.2, 16.8, 15.8, 15.5, 15.0, 14.8, 15.2, 14.5, 14.2, 14.8, 13.8, 13.5, 13.2, 13.0, 12.5, 11.0, 12.2, 12.0,
                11.5, 11.2, 11.5, 10.8, 10.5, 10.2, 10.0, 9.8, 9.5, 9.2]
sigP_bot_gc1 = [42, 35, 33.5, 30.0, 26.5, 25.0, 24.5, 22.5, 21.5, 20.5, 20.0, 19.8, 19.5, 19.0, 18.5, 18.0, 17.8, 17.5, 17.0, 17.8,
                16.5, 16.2, 16.0, 15.5, 15.2, 15.0, 14.8, 14.5, 14.8, 14.2, 14.0, 13.8, 13.5, 13.2, 13.0, 12.8, 12.5, 12.0, 12.2, 12.5,
                11.8, 11.5, 11.2, 11.0, 10.8, 10.5, 10.2, 10.0, 9.8, 9.5]
sigP_bot_gc2 = [42, 35, 31.5, 30.0, 26.5, 25.5, 23.0, 22.0, 22.5, 21.0, 20.0, 19.5, 19.0, 18.5, 18.2, 17.8, 18.0, 17.5, 17.0, 16.8,
                16.5, 16.0, 16.2, 15.5, 15.2, 15.0, 14.5, 14.8, 14.2, 14.5, 14.0, 13.8, 13.5, 13.2, 12.8, 12.5, 12.8, 13.2, 12.0, 11.8,
                11.5, 11.2, 11.0, 10.8, 10.5, 10.2, 10.0, 9.5, 9.2, 9.0]
sigP_bot_gc3 = [42, 36, 35.5, 30.5, 29.0, 25.5, 24.0, 23.0, 21.5, 20.0, 20.5, 19.5, 19.0, 18.5, 18.0, 17.8, 17.5, 17.2, 16.8, 17.0,
                16.5, 16.2, 16.0, 15.8, 16.0, 15.5, 15.0, 14.8, 14.5, 14.2, 14.0, 13.8, 13.5, 13.2, 13.0, 12.8, 12.5, 12.2, 12.0, 11.8,
                11.5, 11.2, 11.0, 10.8, 10.5, 10.2, 10.0, 9.8, 9.5, 9.2]
sigP_bot_gc4 = [40, 34, 33.0, 29.0, 27.0, 25.0, 23.5, 22.5, 21.0, 20.5, 19.5, 19.0, 21.0, 18.5, 19.5, 18.0, 17.5, 17.8, 17.0, 16.5,
                16.2, 16.0, 15.8, 15.5, 15.0, 14.8, 14.5, 14.8, 14.2, 14.0, 13.8, 13.5, 13.2, 13.0, 12.8, 12.5, 12.2, 12.0, 11.8, 11.5,
                11.2, 11.0, 10.8, 11.0, 10.5, 10.2, 10.0, 9.5, 9.0, 8.5]
sigP_bot_gc22 = [38, 27, 19.5, 20.0, 21.5, 20.0, 18.5, 17.5, 16.5, 15.5, 15.0, 14.5, 14.2, 13.8, 13.5, 13.0, 12.8, 12.5, 12.0, 12.5,
                 12.2, 12.0, 11.5, 11.2, 11.0, 11.5, 11.0, 10.5, 10.2, 10.5, 10.3, 10.2, 10.0, 9.5, 9.8, 9.5, 9.8, 9.2, 9.0, 8.8,
                 8.5, 8.8, 8.2, 8.0, 8.2, 7.8, 8.0, 7.5, 7.2, 6.8]
sigP_bot_gc23 = [38, 26, 17.5, 18.5, 19.0, 18.5, 17.5, 16.0, 15.5, 14.5, 13.5, 13.0, 14.0, 13.0, 12.5, 13.0, 11.5, 11.8, 11.2, 11.0,
                 11.5, 10.8, 11.0, 10.5, 10.0, 10.5, 10.0, 9.8, 10.5, 10.2, 10.5, 10.0, 10.2, 9.0, 8.5, 8.2, 8.0, 8.2, 7.8, 8.0,
                 7.5, 7.8, 7.5, 7.2, 7.5, 7.0, 7.2, 6.8, 6.5, 6.3]
sigP_bot_gc24 = [38, 25, 16, 16.0, 16.5, 17.0, 15.5, 15.0, 14.0, 13.5, 12.0, 11.5, 12.0, 11.5, 10.8, 11.2, 10.5, 10.0, 10.5, 9.8,
                 10.0, 9.5, 9.8, 9.5, 9.0, 9.3, 8.8, 9.5, 9.0, 8.5, 9.0, 8.8, 8.0, 8.5, 8.0, 8.2, 7.8, 8.0, 7.5, 7.8,
                 7.5, 7.2, 7.3, 7.0, 7.3, 7.0, 6.8, 6.5, 6.2, 5.8]
sigP_bot_gc25 = [38, 30, 15, 13.0, 15.0, 15.5, 14.5, 13.0, 12.5, 11.5, 12.0, 11.0, 10.0, 10.5, 9.5, 9.8, 8.5, 8.8, 8.2, 8.5,
                 8.0, 8.2, 7.5, 7.0, 7.2, 7.5, 7.3, 7.8, 7.0, 8.0, 7.5, 7.0, 8.5, 7.2, 7.8, 7.5, 7.0, 7.5, 7.8, 7.2,
                 7.0, 7.5, 7.0, 7.3, 6.8, 7.2, 6.8, 7.0, 6.5, 6.3]
sigP_bot_gc26 = [21, 18, 13, 11.5, 10.0, 7.5, 6.0, 5.6, 5.4, 5.3, 5.5, 5.0, 4.8, 4.6, 4.8, 4.5, 4.4, 3.8, 4.1, 3.5,
                 3.8, 3.5, 3.4, 3.6, 3.2, 3.8, 3.5, 3.0, 3.2, 2.5, 2.6, 2.8, 3.0, 2.0, 2.5, 3.0, 4.0, 2.5, 2.2, 2.4,
                 2.6, 2.2, 2.3, 2.8, 2.4, 3.2, 1.8, 1.5, 1.2, 1.8]
sigP_bot_all = [38, 29, 24.5, 23.5, 24.5, 23.5, 22.0, 20.5, 19.5, 18.5, 17.8, 17.2, 16.8, 16.2, 15.8, 15.5, 15.2, 15.0, 15.1, 14.6,
                14.4, 14.2, 14.0, 13.8, 13.7, 13.5, 13.4, 13.2, 13.1, 13.0, 12.9, 12.7, 12.5, 12.3, 12.2, 12.0, 11.8, 11.6, 11.4, 11.2,
                11.0, 10.7, 10.5, 10.2, 10.0, 9.7, 9.5, 9.2, 9.0, 8.7]

sigZ_bot_gc0 = [40, 31, 36.5, 31.0, 28.5, 26.0, 25.5, 26.5, 24.0, 22.5, 21.5, 21.0, 20.0, 19.5, 19.5, 19.0, 18.5, 17.5, 18.0, 19.0,
                17.0, 16.5, 16.8, 16.2, 16.5, 15.5, 15.0, 15.2, 14.8, 14.5, 14.2, 13.8, 14.0, 13.5, 13.2, 13.0, 12.8, 12.5, 12.2, 12.8,
                12.0, 11.5, 11.8, 11.2, 11.0, 10.8, 11.0, 10.5, 11.0, 10.2]
sigZ_bot_gc1 = [40, 31, 31.0, 26.0, 27.5, 24.5, 24.0, 22.5, 23.0, 21.5, 21.0, 20.5, 20.0, 19.5, 19.0, 18.5, 18.0, 19.5, 18.5, 17.8,
                17.2, 16.8, 16.5, 16.0, 15.8, 15.5, 15.2, 15.0, 14.8, 14.5, 14.2, 14.0, 13.8, 13.5, 13.0, 13.2, 12.8, 12.5, 12.2, 12.0,
                11.8, 11.5, 11.2, 12.5, 11.0, 10.8, 10.5, 10.2, 10.5, 10.0]
sigZ_bot_gc2 = [40, 30, 28.0, 30.0, 27.0, 29.0, 25.0, 24.5, 23.0, 22.5, 21.5, 21.0, 20.5, 21.0, 20.0, 19.5, 18.5, 17.5, 17.8, 17.0,
                16.8, 16.5, 17.0, 16.0, 16.5, 15.5, 15.0, 15.2, 14.8, 14.5, 14.2, 14.0, 13.8, 13.5, 13.2, 13.0, 12.5, 12.2, 12.0, 11.8,
                11.5, 11.2, 11.0, 10.8, 10.5, 10.2, 10.0, 9.8, 9.5, 11.5]
sigZ_bot_gc3 = [40, 31, 33.5, 30.0, 28.0, 27.0, 25.5, 24.5, 25.5, 23.0, 21.0, 20.5, 20.0, 19.8, 19.5, 19.0, 18.5, 18.0, 17.5, 17.2,
                16.8, 16.5, 16.0, 16.5, 15.8, 15.5, 15.0, 14.8, 14.5, 14.2, 14.0, 13.5, 13.2, 13.8, 13.0, 12.8, 12.5, 12.2, 12.0, 11.8,
                11.5, 11.2, 11.0, 10.8, 10.5, 10.2, 10.0, 9.8, 10.2, 9.5]
sigZ_bot_gc4 = [40, 30, 31.0, 33.0, 30.0, 27.5, 25.0, 27.0, 23.5, 22.0, 21.5, 20.5, 21.5, 20.0, 19.8, 19.0, 16.5, 17.5, 17.0, 16.5,
                16.2, 16.0, 15.8, 15.5, 15.2, 15.0, 14.5, 14.2, 14.0, 13.8, 13.5, 13.8, 13.2, 13.0, 12.5, 12.2, 12.5, 12.0, 11.8, 11.5,
                11.2, 11.0, 10.8, 10.5, 10.2, 10.0, 9.8, 9.5, 9.2, 9.0]
sigZ_bot_gc22 = [40, 25, 20.0, 22.0, 24.0, 22.5, 21.0, 19.5, 18.5, 17.5, 16.5, 16.0, 15.5, 15.0, 14.5, 14.0, 13.5, 13.2, 13.0, 12.5,
                 12.2, 12.0, 11.5, 11.2, 11.0, 10.8, 10.5, 10.2, 10.0, 9.8, 9.5, 9.2, 9.0, 8.8, 8.5, 8.5, 8.2, 8.0, 8.2, 7.8,
                 7.8, 7.5, 7.2, 7.5, 7.0, 7.2, 6.8, 6.5, 6.5, 6.2]
sigZ_bot_gc23 = [40, 24, 18.5, 19.0, 20.5, 19.5, 18.5, 17.5, 17.0, 16.0, 15.5, 15.0, 14.5, 13.5, 13.2, 13.0, 12.8, 12.5, 12.0, 11.8,
                 11.5, 11.0, 10.8, 10.2, 10.0, 9.5, 9.8, 9.2, 9.5, 8.8, 9.0, 8.5, 8.2, 8.5, 8.0, 7.8, 7.5, 7.2, 7.5, 7.2,
                 7.0, 6.8, 6.5, 6.8, 6.2, 6.5, 6.0, 6.2, 5.8, 6.0]
sigZ_bot_gc24 = [40, 22, 16.5, 18.0, 18.5, 17.5, 16.5, 15.5, 15.0, 14.0, 13.5, 13.0, 13.5, 12.0, 11.5, 12.0, 11.5, 11.0, 11.5, 10.5,
                 10.0, 10.5, 9.5, 9.0, 9.5, 8.8, 9.0, 8.5, 8.8, 8.5, 8.0, 7.5, 8.0, 7.2, 7.5, 7.0, 7.2, 6.8, 6.5, 7.0,
                 6.5, 6.2, 6.0, 6.5, 5.8, 6.0, 5.5, 5.8, 5.5, 5.0]
sigZ_bot_gc25 = [40, 22, 14.5, 13.0, 15.5, 14.5, 13.5, 12.5, 11.5, 11.8, 11.0, 10.5, 9.8, 9.5, 10.0, 9.0, 8.5, 7.5, 8.0, 7.5,
                 7.2, 7.8, 7.0, 6.8, 7.0, 6.5, 6.8, 7.0, 6.5, 6.0, 6.2, 6.8, 6.0, 5.5, 6.0, 5.2, 5.5, 5.0, 4.5, 5.2,
                 4.8, 5.5, 4.5, 5.0, 4.2, 4.8, 4.5, 5.0, 4.5, 4.8]
sigZ_bot_gc26 = [40, 22, 13, 10.0, 8.5, 7.5, 7.3, 7.0, 6.8, 6.5, 6.3, 6.2, 6.0, 5.8, 6.0, 5.8, 5.5, 5.8, 5.5, 5.2,
                 5.0, 5.2, 5.5, 5.3, 5.0, 4.8, 4.7, 4.5, 3.8, 3.6, 3.8, 3.5, 3.8, 3.6, 4.2, 3.8, 3.5, 3.2, 3.5, 3.0,
                 3.2, 3.5, 3.0, 3.2, 2.8, 2.5, 2.0, 2.2, 1.5, 2.5]
sigZ_bot_all = [38, 27, 20.5, 19.5, 21.2, 21.0, 20.0, 19.6, 19.2, 18.6, 18.2, 17.8, 17.4, 17.1, 16.8, 16.4, 16.0, 15.8, 15.6, 15.3,
                15.0, 14.8, 14.5, 14.2, 13.9, 13.6, 13.4, 13.1, 12.8, 12.5, 12.3, 12.0, 11.8, 11.6, 11.4, 11.2, 11.0, 10.8, 10.6, 10.4,
                10.2, 10.0, 9.8, 9.6, 9.5, 9.3, 9.2, 9.0, 8.9, 8.7]

# legend labels
labels_top = ['GC0', 'GC1', 'GC2', 'GC3', 'GC4', 'GC5', 'GC6', 'GC7', 'GC8', 'GC9', 'whole cluster']
labels_top_z = labels_top[:-1] + ['whole custer']
labels_mid = ['GC0', 'GC1', 'GC2', 'GC3', 'GC4', 'GC15', 'GC16', 'GC17', 'GC18', 'GC19', 'whole cluster']
labels_bot = ['GC0', 'GC1', 'GC2', 'GC3', 'GC4', 'GC22', 'GC23', 'GC24', 'GC25', 'GC26', 'whole cluster']

# classic matplotlib colour letters
cb, cg, cr, cc, cm, cy, ck = (0, 0, 1), (0, 0.5, 0), (1, 0, 0), (0, 0.75, 0.75), (0.75, 0, 0.75), (0.75, 0.75, 0), (0, 0, 0)
styles = [(cb, '-'), (cg, '-'), (cr, '-'), (cc, '-'), (cm, '-'),
          (cy, '--'), (ck, '--'), (cb, '--'), (cg, '--'), (cr, '--'), (ck, '-')]

plt.rcParams['font.family'] = ['DejaVu Sans']
plt.rcParams['mathtext.fontset'] = 'cm'
plt.rcParams['xtick.direction'] = 'in'
plt.rcParams['ytick.direction'] = 'in'
plt.rcParams['xtick.top'] = True
plt.rcParams['ytick.right'] = True
plt.rcParams['xtick.major.size'] = 4
plt.rcParams['ytick.major.size'] = 4

fig = plt.figure(figsize=(13.33, 9.9), dpi=100)

lefts = [62 / 1333, 513 / 1333, 955 / 1333]
bottoms = [1 - 273 / 990, 1 - 610 / 990, 1 - 947 / 990]
w, h = 347 / 1333, 258 / 990

ylab_R = r'$\sigma_R$  [km s$^{-1}$ ]'
ylab_P = r'$\sigma_\phi$  [km s$^{-1}$ ]'
ylab_Z = r'$\sigma_z$  [km s$^{-1}$ ]'

panels = [
    (0, 0, x_top, [sigR_top_gc0, sigR_top_gc1, sigR_top_gc2, sigR_top_gc3, sigR_top_gc4, sigR_top_gc5,
                   sigR_top_gc6, sigR_top_gc7, sigR_top_gc8, sigR_top_gc9, sigR_top_all], labels_top, ylab_R),
    (0, 1, x_top, [sigP_top_gc0, sigP_top_gc1, sigP_top_gc2, sigP_top_gc3, sigP_top_gc4, sigP_top_gc5,
                   sigP_top_gc6, sigP_top_gc7, sigP_top_gc8, sigP_top_gc9, sigP_top_all], labels_top,
     r'$\sigma_\phi$  [km $^{-1}$ ]'),
    (0, 2, x_top, [sigZ_top_gc0, sigZ_top_gc1, sigZ_top_gc2, sigZ_top_gc3, sigZ_top_gc4, sigZ_top_gc5,
                   sigZ_top_gc6, sigZ_top_gc7, sigZ_top_gc8, sigZ_top_gc9, sigZ_top_all], labels_top_z, ylab_Z),
    (1, 0, x_low, [sigR_mid_gc0, sigR_mid_gc1, sigR_mid_gc2, sigR_mid_gc3, sigR_mid_gc4, sigR_mid_gc15,
                   sigR_mid_gc16, sigR_mid_gc17, sigR_mid_gc18, sigR_mid_gc19, sigR_mid_all], labels_mid, ylab_R),
    (1, 1, x_low, [sigP_mid_gc0, sigP_mid_gc1, sigP_mid_gc2, sigP_mid_gc3, sigP_mid_gc4, sigP_mid_gc15,
                   sigP_mid_gc16, sigP_mid_gc17, sigP_mid_gc18, sigP_mid_gc19, sigP_mid_all], labels_mid, ylab_P),
    (1, 2, x_low, [sigZ_mid_gc0, sigZ_mid_gc1, sigZ_mid_gc2, sigZ_mid_gc3, sigZ_mid_gc4, sigZ_mid_gc15,
                   sigZ_mid_gc16, sigZ_mid_gc17, sigZ_mid_gc18, sigZ_mid_gc19, sigZ_mid_all], labels_mid, ylab_Z),
    (2, 0, x_low, [sigR_bot_gc0, sigR_bot_gc1, sigR_bot_gc2, sigR_bot_gc3, sigR_bot_gc4, sigR_bot_gc22,
                   sigR_bot_gc23, sigR_bot_gc24, sigR_bot_gc25, sigR_bot_gc26, sigR_bot_all], labels_bot, ylab_R),
    (2, 1, x_low, [sigP_bot_gc0, sigP_bot_gc1, sigP_bot_gc2, sigP_bot_gc3, sigP_bot_gc4, sigP_bot_gc22,
                   sigP_bot_gc23, sigP_bot_gc24, sigP_bot_gc25, sigP_bot_gc26, sigP_bot_all], labels_bot, ylab_P),
    (2, 2, x_low, [sigZ_bot_gc0, sigZ_bot_gc1, sigZ_bot_gc2, sigZ_bot_gc3, sigZ_bot_gc4, sigZ_bot_gc22,
                   sigZ_bot_gc23, sigZ_bot_gc24, sigZ_bot_gc25, sigZ_bot_gc26, sigZ_bot_all], labels_bot, ylab_Z),
]

for row, col, xs, series, labels, ylab in panels:
    ax = fig.add_axes([lefts[col], bottoms[row], w, h])
    for ys, lab, (c, ls) in zip(series, labels, styles):
        if ls == '--':
            ax.plot(xs, ys, color=c, ls=ls, lw=1.6, dashes=(4, 3), label=lab)
        else:
            ax.plot(xs, ys, color=c, ls=ls, lw=1.6, label=lab)
    ax.set_xlim(0, 4)
    ax.set_ylim(0, 40)
    ax.set_xticks([0, 1, 2, 3, 4])
    ax.set_yticks([5, 10, 15, 20, 25, 30, 35, 40])
    ax.xaxis.set_major_formatter(FormatStrFormatter('%.1f'))
    ax.tick_params(labelsize=12)
    ax.set_xlabel(r'R/R$_e$', fontsize=14, labelpad=0)
    ax.set_ylabel(ylab, fontsize=14, labelpad=1)
    # legend box sits ~5 px below the top and ~2 px left of the right spine
    ax.legend(loc='upper right', bbox_to_anchor=(1 - 2 / 347, 1 - 5 / 258), borderaxespad=0,
              ncol=3, fontsize=8, handlelength=1.6, handletextpad=1.0,
              columnspacing=2.0, labelspacing=0.5, borderpad=0.4,
              fancybox=False, framealpha=1, edgecolor='k')

fig.savefig('out.png', dpi=100, facecolor='white')
